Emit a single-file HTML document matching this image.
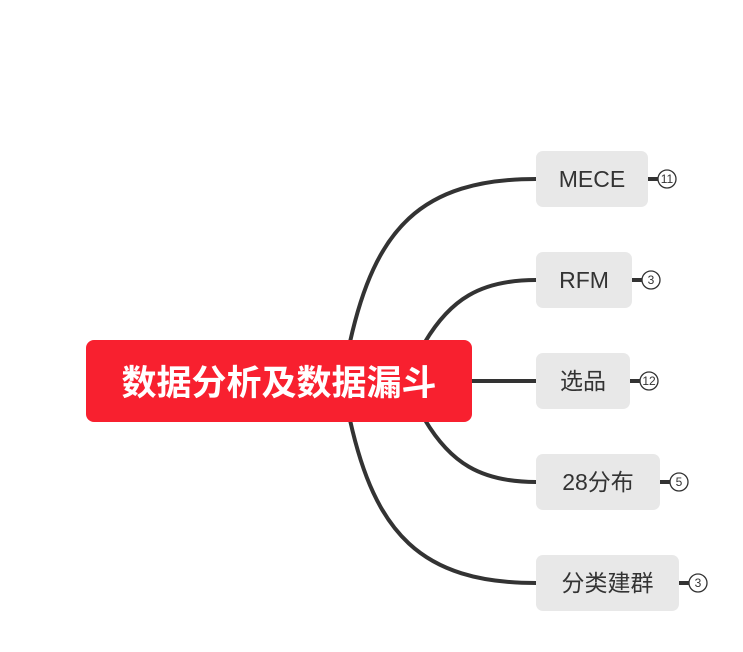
<!DOCTYPE html>
<html><head><meta charset="utf-8"><style>
body{margin:0;background:#fff;width:743px;height:652px;overflow:hidden;font-family:"Liberation Sans","Noto Sans CJK SC",sans-serif}
.b{position:absolute;background:#e8e8e8;border-radius:7px;height:56px;line-height:56px;text-align:center;font-size:23px;color:#333}
</style></head><body>
<svg width="743" height="652" style="position:absolute;left:0;top:0">
<g fill="none" stroke="#333" stroke-width="4">
<path d="M350 342 C375 230 420 179 536 179"/>
<path d="M425 342 C450 300 480 280 536 280"/>
<path d="M470 381 H536"/>
<path d="M425 420 C450 462 480 482 536 482"/>
<path d="M350 420 C375 532 420 583 536 583"/>
<path d="M648 179 H659 M632 280 H643 M630 381 H641 M660 482 H671 M679 583 H690"/>
</g>
<g fill="#fff" stroke="#333" stroke-width="1.3">
<circle cx="667" cy="179" r="9"/><circle cx="651" cy="280" r="9"/><circle cx="649" cy="381" r="9"/><circle cx="679" cy="482" r="9"/><circle cx="698" cy="583" r="9"/>
</g>
<g font-family="Liberation Sans, sans-serif" font-size="12" fill="#333" text-anchor="middle">
<text x="667" y="183">11</text><text x="651" y="284">3</text><text x="649" y="385">12</text><text x="679" y="486">5</text><text x="698" y="587">3</text>
</g>
</svg>
<div style="position:absolute;left:86px;top:340px;width:386px;height:82px;background:#f8202f;border-radius:8px;color:#fff;font-weight:bold;font-size:35px;line-height:82px;text-align:center;font-family:'Noto Sans CJK SC',sans-serif">数据分析及数据漏斗</div>
<div class="b" style="left:536px;top:151px;width:112px">MECE</div>
<div class="b" style="left:536px;top:252px;width:96px">RFM</div>
<div class="b" style="left:536px;top:353px;width:94px">选品</div>
<div class="b" style="left:536px;top:454px;width:124px">28分布</div>
<div class="b" style="left:536px;top:555px;width:143px">分类建群</div>
</body></html>
